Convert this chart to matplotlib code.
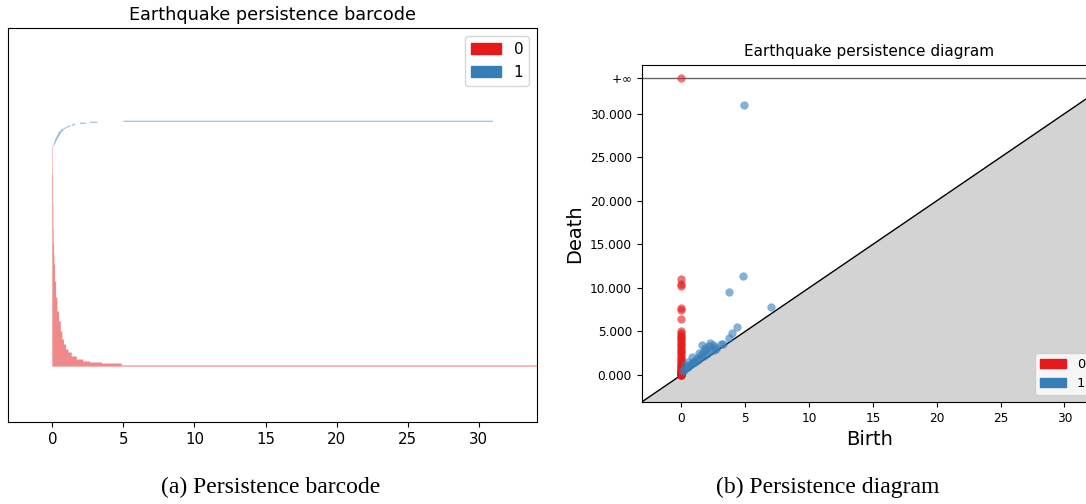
"""Earthquake persistence: barcode (left) and persistence diagram (right)."""
import numpy as np
import matplotlib.pyplot as plt
import matplotlib.patches as mpatches

RED = "#e41a1c"
BLUE = "#377eb8"
ALPHA = 0.6

# --- barcode data ---
# H0 bars all start at 0; death levels (longest first) and how many bars share each
bar_h0_deaths = [np.inf, 4.88, 3.5, 2.65, 2.18, 1.72, 1.36, 1.13, 0.96, 0.82, 0.70,
                 0.59, 0.47, 0.35, 0.26, 0.19, 0.14, 0.12, 0.09, 0.07, 0.05, 0.03]
bar_h0_counts = [1, 2, 1, 1, 2, 3, 4, 3, 5, 5, 8,
                 10, 10, 14, 16, 17, 10, 10, 15, 25, 30, 28]
# H1 bars, ordered by birth
bar_h1_births = [0.04, 0.07, 0.10, 0.12, 0.14, 0.17, 0.19, 0.21, 0.24, 0.28, 0.31, 0.35, 0.40,
                 0.42, 0.47, 0.55, 0.61, 0.66, 0.80, 0.95, 1.10, 1.36, 1.45, 1.95, 2.66, 5.0]
bar_h1_deaths = [0.08, 0.12, 0.17, 0.21, 0.24, 0.27, 0.31, 0.33, 0.38, 0.42, 0.47, 0.50, 0.55,
                 0.59, 0.64, 0.70, 0.77, 0.80, 0.95, 1.10, 1.25, 1.50, 1.60, 2.35, 3.17, 31.0]

# --- diagram data ---
diag_h0_deaths = [np.inf, 11.0, 10.4, 10.2, 7.7, 7.5, 6.4, 5.0, 4.8, 4.6, 4.4, 4.2, 4.0,
                  3.8, 3.6, 3.4, 3.2, 3.0, 2.8, 2.6, 2.4, 2.2, 2.0, 1.8, 1.6, 1.45, 1.3,
                  1.15, 1.0, 0.9, 0.8, 0.7, 0.6, 0.5, 0.45, 0.4, 0.35, 0.3, 0.25, 0.2,
                  0.15, 0.12, 0.1, 0.08, 0.06, 0.05, 0.04, 0.03, 0.02]
diag_h1_births = [0.15, 0.25, 0.3, 0.4, 0.5, 0.55, 0.65, 0.75, 0.8, 0.9, 1.0, 1.1, 1.2,
                  1.3, 1.35, 1.45, 1.55, 1.6, 1.7, 1.8, 1.88, 1.95, 2.05, 2.15, 2.27, 2.35,
                  2.45, 2.53, 2.65, 2.75, 3.1, 3.3, 3.76, 3.94, 4.39, 3.73, 4.83, 7.06, 4.9]
diag_h1_deaths = [0.5, 0.6, 1.1, 0.75, 0.95, 1.5, 1.2, 1.3, 2.1, 1.4, 1.6, 1.5, 1.9,
                  1.7, 2.5, 2.0, 2.3, 3.45, 2.6, 2.2, 3.1, 2.9, 2.4, 3.3, 3.65, 2.7,
                  3.5, 2.9, 3.2, 3.0, 3.55, 3.6, 4.2, 4.87, 5.55, 9.5, 11.4, 7.8, 31.0]

fig = plt.figure(figsize=(10.86, 5.04), dpi=100)

# --- Barcode ---
ax1 = fig.add_axes([8.3 / 1086, 82 / 504, 528.7 / 1086, 393.7 / 504])
n0 = sum(bar_h0_counts)
births = [0.0] * n0 + bar_h1_births
deaths = list(np.repeat(bar_h0_deaths, bar_h0_counts)) + bar_h1_deaths
colors = [RED] * n0 + [BLUE] * len(bar_h1_births)

finite = [d for d in deaths if np.isfinite(d)]
min_birth, max_death = min(births), max(finite)
delta = 0.1 * (max_death - min_birth)
infinity = max_death + delta
lengths = [min(d, infinity) - b for b, d in zip(births, deaths)]

# bars are about one pixel tall, so pixel snapping is turned off
bars = ax1.barh(np.arange(len(births)), lengths, left=births, height=1.0,
                color=colors, alpha=ALPHA, linewidth=0)
for b in bars:
    b.set_snap(False)
ax1.set_xlim(min_birth - delta, infinity)
ax1.set_ylim(-56, len(births) + 92)
ax1.set_yticks([])
ax1.tick_params(axis="x", labelsize=10.8)
ax1.set_title("Earthquake persistence barcode", fontsize=12.7)
ax1.legend(handles=[mpatches.Patch(color=RED, label="0"),
                    mpatches.Patch(color=BLUE, label="1")],
           loc="upper right", fontsize=11)

# --- Diagram ---
ax2 = fig.add_axes([641.7 / 1086, 102 / 504, 455.3 / 1086, 337.5 / 504])
all_births = [0.0] * len(diag_h0_deaths) + diag_h1_births
all_deaths = [d for d in diag_h0_deaths + diag_h1_deaths if np.isfinite(d)]
min_b, max_d = min(all_births), max(all_deaths)
d2 = 0.1 * (max_d - min_b)
inf2 = max_d + d2
axis_start, axis_end = min_b - d2, max_d + d2 / 2

x = np.array([axis_start, axis_end])
ax2.fill_between(x, axis_start, x, color="lightgrey", zorder=0)
ax2.plot(x, x, color="k", linewidth=1.0, zorder=1)
ax2.plot(x, [inf2, inf2], color="k", linewidth=1.0, alpha=ALPHA, zorder=1)

h0_y = [min(d, inf2) for d in diag_h0_deaths]
ax2.scatter([0.0] * len(h0_y), h0_y, color=RED, alpha=ALPHA, s=36, linewidths=0, zorder=2)
ax2.scatter(diag_h1_births, diag_h1_deaths, color=BLUE, alpha=ALPHA, s=36, linewidths=0, zorder=2)

ax2.set_xlim(axis_start, axis_end)
ax2.set_ylim(axis_start, inf2 + d2 / 2)
ax2.set_xticks(range(0, 31, 5))
yt = [0, 5, 10, 15, 20, 25, 30, inf2]
ax2.set_yticks(yt)
ax2.set_yticklabels(["%.3f" % v for v in yt[:-1]] + [r"$+\infty$"])
ax2.tick_params(labelsize=8.7)
ax2.set_xlabel("Birth", fontsize=14)
ax2.set_ylabel("Death", fontsize=14)
ax2.set_title("Earthquake persistence diagram", fontsize=11)
ax2.legend(handles=[mpatches.Patch(color=RED, label="0"),
                    mpatches.Patch(color=BLUE, label="1")],
           loc="lower right", fontsize=9.4)

# sub-captions
fig.text(271 / 1086, 1 - 487 / 504, "(a) Persistence barcode",
         ha="center", va="center", fontsize=17, family="Liberation Serif")
fig.text(828 / 1086, 1 - 487 / 504, "(b) Persistence diagram",
         ha="center", va="center", fontsize=17, family="Liberation Serif")

fig.savefig("out.png", dpi=100)
